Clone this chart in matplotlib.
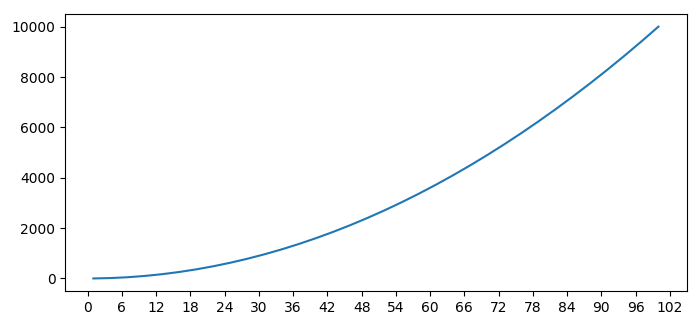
import matplotlib
matplotlib.use('Agg')
import matplotlib.pyplot as plt
from matplotlib.ticker import MultipleLocator

# values
x = [1, 4, 7, 10, 13, 16, 19, 22, 25, 28, 31, 34, 37, 40, 43, 46, 49,
     52, 55, 58, 61, 64, 67, 70, 73, 76, 79, 82, 85, 88, 91, 94, 97, 100]
y = [1, 16, 49, 100, 169, 256, 361, 484, 625, 784, 961, 1156, 1369, 1600,
     1849, 2116, 2401, 2704, 3025, 3364, 3721, 4096, 4489, 4900, 5329,
     5776, 6241, 6724, 7225, 7744, 8281, 8836, 9409, 10000]

fig, ax = plt.subplots(figsize=(7, 3.27), dpi=100)
ax.plot(x, y)
ax.xaxis.set_major_locator(MultipleLocator(6))
ax.yaxis.set_major_locator(MultipleLocator(2000))
fig.subplots_adjust(left=0.093, right=0.981, top=0.957, bottom=0.110)
fig.savefig('out.png')
